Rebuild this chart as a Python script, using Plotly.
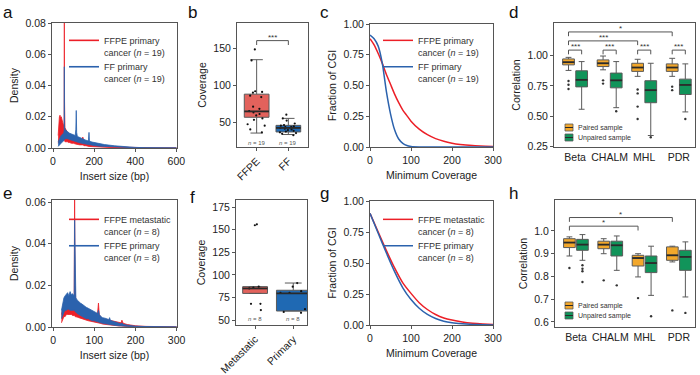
import plotly.graph_objects as go

# ------------------------------------------------------------------ data
# panel a: insert-size density envelopes (FFPE vs FF primary, n=19)
a_ffpe_x  = [25, 28, 31, 34, 37, 40, 43, 46, 49, 52, 54, 55, 56, 58, 61, 65, 70, 75, 80, 90, 100, 110, 120, 130, 140, 145, 147, 150, 160, 175, 200, 250, 300, 400, 500, 600]
a_ffpe_hi = [.008, .017, .020, .021, .019, .020, .018, .016, .015, .014, .016, .085, .030, .013, .012, .011, .010, .0095, .009, .008, .007, .0065, .0065, .006, .0055, .007, .0055, .0045, .004, .003, .002, .001, .0006, .0002, .0001, .00005]
a_ffpe_lo = [.003, .005, .006, .006, .007, .006, .006, .005, .005, .005, .005, .005, .005, .004, .004, .004, .004, .0035, .0035, .003, .003, .0025, .002, .002, .002, .002, .002, .0015, .0015, .001, .0008, .0004, .0002, .0001, .00004, .00002]
a_ff_x  = [25, 28, 31, 34, 37, 40, 43, 46, 49, 52, 54, 55, 56, 58, 61, 65, 70, 80, 90, 100, 108, 111, 113, 115, 118, 125, 140, 160, 172, 175, 177, 180, 190, 200, 225, 250, 300, 350, 400, 450, 500, 600]
a_ff_hi = [.004, .005, .006, .007, .0075, .008, .0085, .009, .009, .0095, .011, .052, .014, .012, .0115, .011, .0105, .0095, .009, .0085, .008, .012, .024, .010, .0075, .007, .006, .005, .0045, .010, .005, .0042, .0038, .0035, .0028, .0022, .0014, .0008, .0004, .0002, .0001, .00005]
a_ff_lo = [.001, .0015, .002, .0025, .003, .0032, .0035, .004, .0042, .0045, .005, .005, .0055, .006, .006, .006, .006, .0055, .005, .0045, .004, .004, .004, .004, .0038, .0035, .003, .0025, .002, .002, .002, .002, .0018, .0016, .0012, .001, .0006, .0003, .00015, .00008, .00004, .00002]

# panel e: insert-size density envelopes (FFPE metastatic vs primary, n=8)
e_met_x  = [20, 23, 26, 29, 32, 35, 38, 41, 44, 47, 50, 51, 52, 53, 55, 58, 62, 66, 70, 75, 80, 85, 90, 95, 100, 105, 108, 110, 112, 116, 120, 130, 140, 150, 160, 165, 167, 170, 180, 200, 225, 250, 300]
e_met_hi = [.006, .010, .012, .011, .013, .012, .013, .011, .012, .011, .011, .013, .065, .020, .012, .011, .0105, .010, .0095, .009, .0085, .008, .0075, .007, .0065, .006, .007, .0115, .006, .0045, .004, .0035, .003, .0025, .002, .002, .0033, .0018, .0012, .0006, .0003, .00015, .00005]
e_met_lo = [.002, .004, .005, .005, .006, .006, .006, .006, .006, .0055, .0055, .0055, .0055, .005, .005, .0048, .0045, .0042, .004, .0036, .0034, .003, .0028, .0026, .0023, .0022, .0022, .0022, .0019, .0017, .0014, .0011, .0009, .0007, .0005, .0005, .0005, .0004, .0003, .0001, .00005, .00002, .00001]
e_pri_x  = [20, 23, 26, 29, 32, 35, 38, 41, 44, 47, 50, 51, 52, 53, 55, 58, 62, 66, 70, 75, 80, 85, 90, 95, 100, 105, 108, 110, 112, 116, 120, 130, 135, 137, 139, 145, 150, 160, 165, 167, 170, 180, 200, 225, 250, 300]
e_pri_hi = [.008, .012, .014, .015, .016, .0165, .015, .017, .0155, .016, .015, .016, .052, .020, .014, .013, .012, .0115, .011, .010, .0095, .009, .0085, .008, .0075, .007, .0065, .008, .006, .005, .0045, .004, .0035, .0045, .0032, .0028, .0024, .0018, .0015, .002, .0013, .0009, .0004, .0002, .0001, .00003]
e_pri_lo = [.004, .006, .007, .008, .008, .0085, .0085, .008, .008, .008, .008, .008, .008, .0075, .007, .0065, .006, .0055, .005, .0045, .004, .004, .0035, .003, .003, .0028, .0025, .0025, .0022, .002, .0018, .0014, .0012, .0012, .001, .0009, .0008, .0006, .0005, .0005, .0004, .0003, .0001, .00005, .00002, .00001]

# panel c: fraction of CGI vs minimum coverage
c_x    = [0, 10, 20, 30, 40, 50, 60, 70, 80, 90, 100, 120, 140, 160, 180, 200, 220, 250, 300]
c_ffpe = [0.88, 0.83, 0.76, 0.68, 0.59, 0.51, 0.43, 0.36, 0.30, 0.255, 0.21, 0.145, 0.10, 0.068, 0.046, 0.031, 0.021, 0.012, 0.004]
c_ff   = [0.91, 0.88, 0.82, 0.68, 0.45, 0.27, 0.14, 0.065, 0.03, 0.012, 0.005, 0.001, 0.0003, 0.0001, 0, 0, 0, 0, 0]

# panel g
g_x   = [0, 20, 40, 60, 80, 100, 120, 140, 160, 180, 200, 225, 250, 275, 300]
g_met = [0.90, 0.75, 0.60, 0.46, 0.34, 0.255, 0.18, 0.125, 0.085, 0.057, 0.04, 0.025, 0.015, 0.009, 0.005]
g_pri = [0.90, 0.74, 0.58, 0.43, 0.30, 0.205, 0.135, 0.085, 0.052, 0.03, 0.018, 0.01, 0.005, 0.002, 0.001]

# panel b: coverage boxes
b_groups = ['FFPE', 'FF']
b_q1  = [56.5, 36.5]
b_med = [64.5, 42.0]
b_q3  = [88.0, 45.5]
b_lo  = [35.0, 33.0]
b_hi  = [135.0, 55.0]
b_pts = [
    [149, 134, 92, 91, 90, 86, 84, 71, 68, 65, 63, 61, 59, 55, 53, 47, 45, 40, 36],
    [60, 55, 52, 48, 46, 45, 44, 43, 43, 42, 41, 40, 39, 38, 37, 36, 35, 34, 32],
]
b_n = ['19', '19']

# panel f
f_groups = ['Metastatic', 'Primary']
f_q1  = [79.5, 60.0]
f_med = [85.0, 79.5]
f_q3  = [87.0, 83.0]
f_lo  = [79.5, 60.0]
f_hi  = [87.0, 91.0]
f_pts = [
    [156, 155, 87, 86, 85, 68, 68, 61],
    [91, 87, 82, 80, 80, 62, 59, 58],
]
f_n = ['8', '8']

# panels d and h: correlation boxes
metrics = ['Beta', 'CHALM', 'MHL', 'PDR']
d_pair_q1  = [0.924, 0.910, 0.870, 0.870]
d_pair_med = [0.946, 0.937, 0.902, 0.902]
d_pair_q3  = [0.973, 0.965, 0.937, 0.932]
d_pair_lo  = [0.878, 0.883, 0.829, 0.829]
d_pair_hi  = [0.986, 0.997, 0.970, 0.978]
d_pair_out = [[0.79, 0.76, 0.725], [0.796, 0.769], [0.72, 0.688, 0.579, 0.476], [0.744, 0.715]]
d_unp_q1  = [0.742, 0.734, 0.611, 0.679]
d_unp_med = [0.800, 0.796, 0.715, 0.758]
d_unp_q3  = [0.875, 0.856, 0.793, 0.806]
d_unp_lo  = [0.557, 0.570, 0.340, 0.535]
d_unp_hi  = [0.951, 0.951, 0.937, 0.932]
d_unp_out = [[], [0.54], [0.326], [0.476]]

h_pair_q1  = [0.927, 0.922, 0.846, 0.871]
h_pair_med = [0.949, 0.940, 0.881, 0.893]
h_pair_q3  = [0.966, 0.955, 0.893, 0.930]
h_pair_lo  = [0.890, 0.900, 0.798, 0.864]
h_pair_hi  = [0.974, 0.966, 0.900, 0.933]
h_pair_out = [[0.837], [0.783], [0.705], [0.651]]
h_unp_q1  = [0.915, 0.890, 0.817, 0.827]
h_unp_med = [0.940, 0.937, 0.859, 0.886]
h_unp_q3  = [0.963, 0.955, 0.890, 0.915]
h_unp_lo  = [0.871, 0.827, 0.717, 0.710]
h_unp_hi  = [0.984, 0.978, 0.933, 0.952]
h_unp_out = [[0.849, 0.834, 0.823, 0.776], [0.761], [0.625], [0.640]]

# significance brackets: (metric0, group0, metric1, group1, height, label); group 0=paired 1=unpaired
d_sig = [(0, 0, 3, 0, 1.196, '*'), (0, 0, 2, 0, 1.122, '***'),
         (0, 0, 0, 1, 1.046, '***'), (1, 0, 1, 1, 1.046, '***'),
         (2, 0, 2, 1, 1.046, '***'), (3, 0, 3, 1, 1.046, '***')]
h_sig = [(0, 0, 3, 0, 1.059, '*'), (0, 0, 2, 0, 1.021, '*')]
b_sig = [(0, 1, 161.0, '***')]

# ------------------------------------------------------------------ style
W, H = 700, 375
FONT = 'Liberation Sans, Arial, sans-serif'
RED, BLUE = '#ec1f27', '#2b62ad'
BOX_RED, BOX_BLUE = '#e3625c', '#1f69b3'
ORANGE, GREEN = '#f2a72b', '#11945a'
EDGE = '#5a5a5a'
MED = '#2a2a2a'
TXT = '#222222'

fig = go.Figure()

# pixel boxes of each plotting area (x0, x1, y0, y1)
areas = {1: (52, 177, 23, 148), 2: (237, 308, 23, 147), 3: (370, 493, 24, 147), 4: (554, 695, 23, 147),
         5: (52, 177, 200, 327), 6: (236, 307, 200, 325), 7: (370, 493, 201, 325), 8: (555, 695, 200, 327)}


def ax(i):
    return ('x' if i == 1 else 'x%d' % i), ('y' if i == 1 else 'y%d' % i)


def band(i, x, lo, hi, color, name, legend):
    xa, ya = ax(i)
    fig.add_trace(go.Scatter(x=x, y=lo, mode='lines', line=dict(color=color, width=0.8),
                             xaxis=xa, yaxis=ya, showlegend=False, hoverinfo='skip'))
    fig.add_trace(go.Scatter(x=x, y=hi, mode='lines', line=dict(color=color, width=0.8),
                             fill='tonexty', fillcolor=color,
                             xaxis=xa, yaxis=ya, showlegend=False, hoverinfo='skip'))
    fig.add_trace(go.Scatter(x=[None], y=[None], mode='lines', line=dict(color=color, width=1.6),
                             name=name, xaxis=xa, yaxis=ya, legend=legend))


band(1, a_ffpe_x, a_ffpe_lo, a_ffpe_hi, RED, 'FFPE primary<br>cancer (<i>n</i> = 19)', 'legend')
band(1, a_ff_x, a_ff_lo, a_ff_hi, BLUE, 'FF primary<br>cancer (<i>n</i> = 19)', 'legend')
band(5, e_met_x, e_met_lo, e_met_hi, RED, 'FFPE metastatic<br>cancer (<i>n</i> = 8)', 'legend3')
band(5, e_pri_x, e_pri_lo, e_pri_hi, BLUE, 'FFPE primary<br>cancer (<i>n</i> = 8)', 'legend3')


def curve(i, x, y, color, name, legend):
    xa, ya = ax(i)
    fig.add_trace(go.Scatter(x=x, y=y, mode='lines', line=dict(color=color, width=1.5, shape='spline', smoothing=0.6),
                             name=name, xaxis=xa, yaxis=ya, legend=legend))


curve(3, c_x, c_ffpe, RED, 'FFPE primary<br>cancer (<i>n</i> = 19)', 'legend2')
curve(3, c_x, c_ff, BLUE, 'FF primary<br>cancer (<i>n</i> = 19)', 'legend2')
curve(7, g_x, g_met, RED, 'FFPE metastatic<br>cancer (<i>n</i> = 8)', 'legend4')
curve(7, g_x, g_pri, BLUE, 'FFPE primary<br>cancer (<i>n</i> = 8)', 'legend4')


def medians(i, xs, meds, width):
    """dark, slightly thicker median bars drawn over the boxes (ggplot style)"""
    xa, ya = ax(i)
    mx, my = [], []
    for x, m in zip(xs, meds):
        mx += [x - width / 2, x + width / 2, None]
        my += [m, m, None]
    fig.add_trace(go.Scatter(x=mx, y=my, mode='lines', line=dict(color=MED, width=1.8),
                             showlegend=False, hoverinfo='skip', xaxis=xa, yaxis=ya))


# two-group coverage boxes (b, f)
def cov_boxes(i, groups, q1, med, q3, lo, hi, pts, colors, widths):
    xa, ya = ax(i)
    for k in range(len(groups)):
        fig.add_trace(go.Box(x=[k], q1=[q1[k]], median=[med[k]], q3=[q3[k]],
                             lowerfence=[lo[k]], upperfence=[hi[k]], width=widths[k],
                             fillcolor=colors[k], line=dict(color=EDGE, width=1),
                             boxpoints=False, showlegend=False, hoverinfo='skip',
                             xaxis=xa, yaxis=ya))
        medians(i, [k], [med[k]], widths[k])
        fig.add_trace(go.Box(x=[k] * len(pts[k]), y=pts[k], width=widths[k],
                             fillcolor='rgba(0,0,0,0)', line=dict(color='rgba(0,0,0,0)', width=0),
                             boxpoints='all', jitter=0.9, pointpos=0,
                             marker=dict(color='#111111', size=2.2),
                             showlegend=False, hoverinfo='skip', xaxis=xa, yaxis=ya))


cov_boxes(2, b_groups, b_q1, b_med, b_q3, b_lo, b_hi, b_pts, [BOX_RED, BOX_BLUE], [0.78, 0.78])
cov_boxes(6, f_groups, f_q1, f_med, f_q3, f_lo, f_hi, f_pts, [BOX_RED, BOX_BLUE], [0.65, 0.88])

# grouped correlation boxes (d, h)
GAP = 0.19
BW = 0.34


def corr_boxes(i, sets):
    xa, ya = ax(i)
    for g, (q1, med, q3, lo, hi, out, color) in enumerate(sets):
        off = -GAP if g == 0 else GAP
        xs = [k + off for k in range(len(metrics))]
        fig.add_trace(go.Box(x=xs, q1=q1, median=med, q3=q3, lowerfence=lo, upperfence=hi,
                             width=BW, fillcolor=color, line=dict(color=EDGE, width=1),
                             boxpoints=False, showlegend=False, hoverinfo='skip',
                             xaxis=xa, yaxis=ya))
        medians(i, xs, med, BW)
        ox, oy = [], []
        for k, vals in enumerate(out):
            for v in vals:
                ox.append(k + off)
                oy.append(v)
        fig.add_trace(go.Scatter(x=ox, y=oy, mode='markers', marker=dict(color='#333333', size=2.4),
                                 showlegend=False, hoverinfo='skip', xaxis=xa, yaxis=ya))


corr_boxes(4, [(d_pair_q1, d_pair_med, d_pair_q3, d_pair_lo, d_pair_hi, d_pair_out, ORANGE),
               (d_unp_q1, d_unp_med, d_unp_q3, d_unp_lo, d_unp_hi, d_unp_out, GREEN)])
corr_boxes(8, [(h_pair_q1, h_pair_med, h_pair_q3, h_pair_lo, h_pair_hi, h_pair_out, ORANGE),
               (h_unp_q1, h_unp_med, h_unp_q3, h_unp_lo, h_unp_hi, h_unp_out, GREEN)])

shapes, annos = [], []


def bracket(i, x0, x1, y, drop, label, tsize):
    xa, ya = ax(i)
    shapes.append(dict(type='path', xref=xa, yref=ya,
                       path='M %f,%f L %f,%f L %f,%f L %f,%f' % (x0, y - drop, x0, y, x1, y, x1, y - drop),
                       line=dict(color='#555555', width=1)))
    annos.append(dict(x=(x0 + x1) / 2, y=y, xref=xa, yref=ya, text=label, showarrow=False,
                      yanchor='bottom', yshift=-3, font=dict(size=tsize, color='#333333', family=FONT)))


for (m0, g0, m1, g1, yv, lab) in d_sig:
    bracket(4, m0 + (-GAP if g0 == 0 else GAP), m1 + (-GAP if g1 == 0 else GAP), yv, 0.035, lab, 8)
for (m0, g0, m1, g1, yv, lab) in h_sig:
    bracket(8, m0 + (-GAP if g0 == 0 else GAP), m1 + (-GAP if g1 == 0 else GAP), yv, 0.019, lab, 8)
for (k0, k1, yv, lab) in b_sig:
    bracket(2, k0, k1, yv, 6, lab, 8)

# n labels
for k, n in enumerate(b_n):
    annos.append(dict(x=k, y=22, xref='x2', yref='y2', text='<i>n</i> = ' + n, showarrow=False,
                      font=dict(size=6, color='#555555', family=FONT)))
for k, n in enumerate(f_n):
    annos.append(dict(x=k, y=51, xref='x6', yref='y6', text='<i>n</i> = ' + n, showarrow=False,
                      font=dict(size=6, color='#555555', family=FONT)))

# custom box legends for d and h (pixel positions)
for (ytop, labels) in [(124, ['Paired sample', 'Unpaired sample']), (302, ['Paired sample', 'Unpaired sample'])]:
    for j, (lab, col) in enumerate(zip(labels, [ORANGE, GREEN])):
        y0 = ytop + j * 10
        shapes.append(dict(type='rect', xref='paper', yref='paper', x0=565 / W, x1=573 / W,
                           y0=1 - (y0 + 7) / H, y1=1 - y0 / H, fillcolor=col, line=dict(color=EDGE, width=0.8)))
        shapes.append(dict(type='line', xref='paper', yref='paper', x0=565 / W, x1=573 / W,
                           y0=1 - (y0 + 3.5) / H, y1=1 - (y0 + 3.5) / H, line=dict(color=MED, width=1)))
        annos.append(dict(x=576 / W, y=1 - (y0 + 3.5) / H, xref='paper', yref='paper', text=lab,
                          showarrow=False, xanchor='left', yanchor='middle',
                          font=dict(size=7, color='#333333', family=FONT)))

# panel letters
for lab, px, py in [('a', 1, 1), ('b', 186, 1), ('c', 318, 1), ('d', 507, 1),
                    ('e', 1, 182), ('f', 188, 186), ('g', 318, 182), ('h', 507, 182)]:
    annos.append(dict(x=px / W, y=1 - py / H, xref='paper', yref='paper', text=lab, showarrow=False,
                      xanchor='left', yanchor='top', font=dict(size=17, color='#111111', family=FONT)))

base = dict(showline=True, linecolor='#555555', linewidth=1, mirror=True, ticks='outside', ticklen=3,
            tickcolor='#555555', tickfont=dict(size=10.5, color=TXT, family=FONT), showgrid=False,
            zeroline=False, automargin=False)
tfont = dict(size=10.5, color=TXT, family=FONT)
XS, YS = 7, 4

axis_cfg = {
    1: (dict(range=[-5, 603], tickvals=[0, 200, 400, 600], title=dict(text='Insert size (bp)', font=tfont, standoff=XS)),
        dict(range=[0, 0.08], tickvals=[0, 0.02, 0.04, 0.06, 0.08], tickformat='.2f', title=dict(text='Density', font=tfont, standoff=YS))),
    2: (dict(range=[-0.62, 1.62], tickvals=[0, 1], ticktext=b_groups, tickangle=-45),
        dict(range=[16, 185], tickvals=[50, 100, 150], title=dict(text='Coverage', font=tfont, standoff=YS))),
    3: (dict(range=[0, 300], tickvals=[0, 100, 200, 300], title=dict(text='Minimum Coverage', font=tfont, standoff=XS)),
        dict(range=[0, 1.0], tickvals=[0, 0.25, 0.5, 0.75, 1.0], tickformat='.2f', title=dict(text='Fraction of CGI', font=tfont, standoff=YS))),
    4: (dict(range=[-0.61, 3.47], tickvals=[0, 1, 2, 3], ticktext=metrics, ticks=''),
        dict(range=[0.245, 1.27], tickvals=[0.25, 0.5, 0.75, 1.0], tickformat='.2f', title=dict(text='Correlation', font=tfont, standoff=YS))),
    5: (dict(range=[-3, 301], tickvals=[0, 100, 200, 300], title=dict(text='Insert size (bp)', font=tfont, standoff=XS)),
        dict(range=[0, 0.061], tickvals=[0, 0.02, 0.04, 0.06], tickformat='.2f', title=dict(text='Density', font=tfont, standoff=YS))),
    6: (dict(range=[-0.5, 1.36], tickvals=[0, 1], ticktext=f_groups, tickangle=-45),
        dict(range=[44.5, 183], tickvals=[50, 75, 100, 125, 150, 175], title=dict(text='Coverage', font=tfont, standoff=YS))),
    7: (dict(range=[0, 300], tickvals=[0, 100, 200, 300], title=dict(text='Minimum Coverage', font=tfont, standoff=XS)),
        dict(range=[0, 1.0], tickvals=[0, 0.25, 0.5, 0.75, 1.0], tickformat='.2f', title=dict(text='Fraction of CGI', font=tfont, standoff=YS))),
    8: (dict(range=[-0.61, 3.47], tickvals=[0, 1, 2, 3], ticktext=metrics, ticks=''),
        dict(range=[0.578, 1.136], tickvals=[0.6, 0.7, 0.8, 0.9, 1.0], tickformat='.1f', title=dict(text='Correlation', font=tfont, standoff=YS))),
}

layout = dict(width=W, height=H, margin=dict(l=0, r=0, t=0, b=0), plot_bgcolor='white',
              paper_bgcolor='white', font=dict(family=FONT, color=TXT), shapes=shapes, annotations=annos)
for i, (x0, x1, y0, y1) in areas.items():
    xa, ya = ax(i)
    xk = 'xaxis' if i == 1 else 'xaxis%d' % i
    yk = 'yaxis' if i == 1 else 'yaxis%d' % i
    xc, yc = axis_cfg[i]
    xd = dict(base); xd.update(xc); xd.update(domain=[x0 / W, x1 / W], anchor=ya)
    yd = dict(base); yd.update(yc); yd.update(domain=[1 - y1 / H, 1 - y0 / H], anchor=xa)
    layout[xk] = xd
    layout[yk] = yd

leg = dict(xanchor='left', yanchor='top', bgcolor='rgba(0,0,0,0)', borderwidth=0, valign='top',
           font=dict(size=9, color='#333333', family=FONT), tracegroupgap=0, traceorder='normal')
for key, (lx, ly) in {'legend': (64, 28), 'legend2': (378, 28), 'legend3': (64, 207), 'legend4': (378, 207)}.items():
    d = dict(leg); d.update(x=lx / W, y=1 - ly / H)
    layout[key] = d

fig.update_layout(**layout)
fig.write_html('out.html', config={'displayModeBar': False})

# remove the default page margin so the 700x375 figure fills the window exactly
with open('out.html', encoding='utf-8') as fh:
    html = fh.read()
html = html.replace('<head>', '<head><style>html,body{margin:0;padding:0;overflow:hidden;}</style>', 1)
with open('out.html', 'w', encoding='utf-8') as fh:
    fh.write(html)
